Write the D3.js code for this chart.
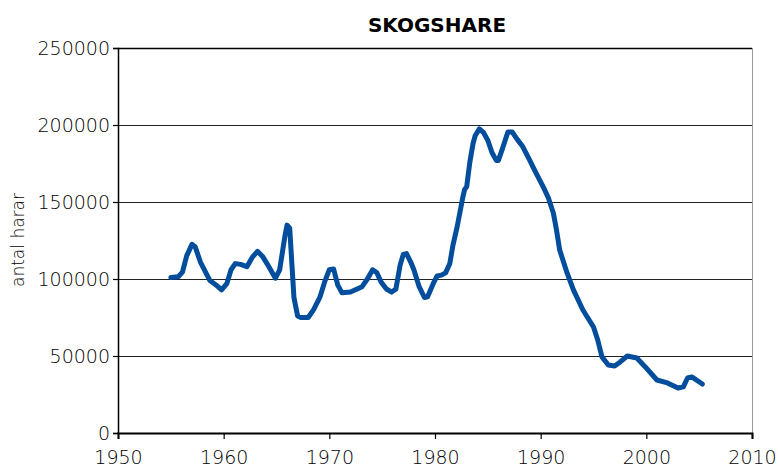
<!DOCTYPE html>
<html>
<head>
<meta charset="utf-8">
<script src="https://cdn.jsdelivr.net/npm/d3@7"></script>
<style>
  body { margin: 0; background: #fff; }
  svg { display: block; }
  .tick-label { font-family: "DejaVu Sans", sans-serif; font-weight: 200; font-size: 19px; fill: #000; }
</style>
</head>
<body>
<svg id="chart" width="778" height="468"></svg>
<script>
const title = "SKOGSHARE";
const yLabel = "antal harar";

// year (decimal) and hare count
const years = [
  1955.0, 1955.7, 1956.1, 1956.5, 1957.0, 1957.3, 1957.8, 1958.7, 1959.3, 1959.8,
  1960.3, 1960.7, 1961.1, 1961.6, 1962.2, 1962.7, 1963.2, 1963.7, 1964.1, 1964.9,
  1965.3, 1965.8, 1966.0, 1966.25, 1966.65, 1967.0, 1967.3, 1968.0, 1968.5, 1969.1,
  1969.6, 1970.0, 1970.4, 1970.8, 1971.2, 1972.0, 1973.1, 1973.6, 1974.1, 1974.5,
  1974.9, 1975.4, 1975.9, 1976.3, 1976.7, 1977.0, 1977.3, 1977.7, 1978.0, 1978.5,
  1979.0, 1979.3, 1979.9, 1980.2, 1980.6, 1981.0, 1981.4, 1981.7, 1982.1, 1982.6,
  1982.8, 1983.0, 1983.3, 1983.6, 1983.8, 1984.2, 1984.6, 1985.0, 1985.4, 1985.8,
  1986.0, 1986.4, 1986.9, 1987.3, 1987.8, 1988.3, 1988.9, 1989.4, 1989.9, 1990.3,
  1990.7, 1991.2, 1991.5, 1991.8, 1992.5, 1993.1, 1994.0, 1995.0, 1995.4, 1995.8,
  1996.4, 1997.0, 1997.5, 1998.2, 1999.1, 1999.9, 2001.0, 2002.0, 2003.0, 2003.5,
  2003.9, 2004.3, 2005.3
];
const hares = [
  101000, 101500, 104500, 115000, 122500, 121000, 111000, 99000, 96000, 93000,
  97000, 106000, 110000, 109500, 108000, 114000, 118000, 114500, 110000, 100500,
  106000, 128000, 135000, 133000, 88000, 76000, 75000, 75000, 80000, 88000,
  99000, 106000, 106500, 96000, 91000, 91500, 95000, 100000, 106000, 104000,
  98000, 93500, 91500, 93500, 109000, 116000, 116500, 111000, 106000, 95000,
  88000, 88500, 98000, 102000, 102500, 104000, 110000, 122000, 134000, 152000,
  158000, 160000, 176000, 188000, 193000, 197500, 195000, 190000, 182000, 177000,
  177000, 185000, 195500, 195500, 190500, 186000, 178000, 171000, 164300, 159000,
  153200, 142900, 131800, 118800, 103900, 92900, 79900, 68800, 60400, 49400,
  44200, 43500, 46000, 50000, 48700, 42900, 34400, 32500, 29200, 30000,
  35700, 36400, 31800
];

const xTicks = [1950, 1960, 1970, 1980, 1990, 2000, 2010];
const yTicks = [0, 50000, 100000, 150000, 200000, 250000];

const margin = { top: 48, right: 26, bottom: 35, left: 118 };
const width = 778, height = 468;
const svg = d3.select("#chart");

const x = d3.scaleLinear().domain([1950, 2010]).range([margin.left, width - margin.right]);
const y = d3.scaleLinear().domain([0, 250000]).range([height - margin.bottom, margin.top]);

// gridlines
svg.append("g")
  .selectAll("line")
  .data(yTicks.filter(d => d > 0))
  .join("line")
  .attr("x1", x(1950)).attr("x2", x(2010))
  .attr("y1", d => y(d) + 0.5).attr("y2", d => y(d) + 0.5)
  .attr("stroke", d => d === 250000 ? "#000" : "#222")
  .attr("stroke-width", d => d === 250000 ? 1.5 : 1.2);

// right border
svg.append("line")
  .attr("x1", x(2010) + 0.5).attr("x2", x(2010) + 0.5)
  .attr("y1", y(250000)).attr("y2", y(0))
  .attr("stroke", "#999").attr("stroke-width", 1);

// y axis
const yAxis = svg.append("g")
  .attr("transform", `translate(${x(1950)},0)`)
  .call(d3.axisLeft(y).tickValues(yTicks).tickFormat(d3.format("d")).tickSize(5).tickPadding(3));
yAxis.select(".domain").attr("stroke", "#000").attr("stroke-width", 1.5);
yAxis.selectAll(".tick line").attr("stroke", "#000").attr("stroke-width", 1.2);
yAxis.selectAll(".tick text").attr("class", "tick-label").attr("dy", "0.36em");

// x axis
const xAxis = svg.append("g")
  .attr("transform", `translate(0,${y(0)})`)
  .call(d3.axisBottom(x).tickValues(xTicks).tickFormat(d3.format("d")).tickSize(6).tickPadding(12));
xAxis.select(".domain").attr("stroke", "#000").attr("stroke-width", 2);
xAxis.selectAll(".tick line").attr("stroke", "#000").attr("stroke-width", 1.2);
xAxis.selectAll(".tick text").attr("class", "tick-label");

// data line
const line = d3.line()
  .x((d, i) => x(years[i]))
  .y(d => y(d))
  .curve(d3.curveLinear);

svg.append("path")
  .datum(hares)
  .attr("d", line)
  .attr("fill", "none")
  .attr("stroke", "#024d9c")
  .attr("stroke-width", 5)
  .attr("stroke-linejoin", "round")
  .attr("stroke-linecap", "round");

// title
svg.append("text")
  .attr("x", 437).attr("y", 32)
  .attr("text-anchor", "middle")
  .attr("font-family", "DejaVu Sans, sans-serif")
  .attr("font-weight", "bold")
  .attr("font-size", 20)
  .attr("fill", "#000")
  .text(title);

// y label
svg.append("text")
  .attr("transform", `translate(24,${240}) rotate(-90)`)
  .attr("text-anchor", "middle")
  .attr("font-family", "DejaVu Sans, sans-serif")
  .attr("font-weight", 200)
  .attr("font-size", 17)
  .attr("fill", "#000")
  .text(yLabel);
</script>
</body>
</html>
